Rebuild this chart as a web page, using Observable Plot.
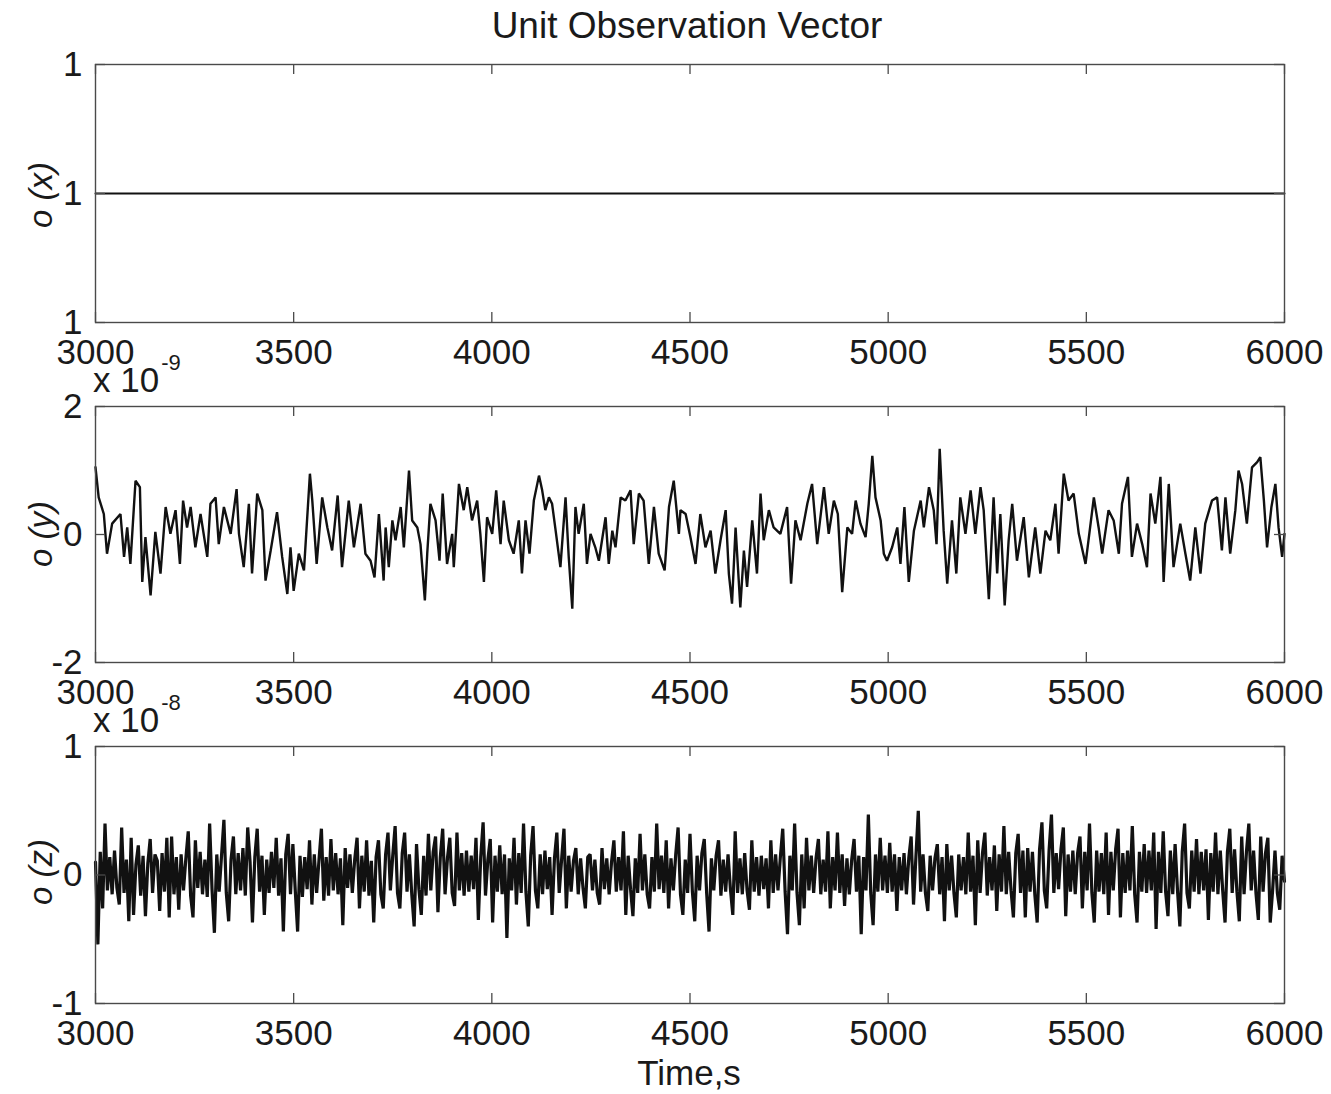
<!DOCTYPE html>
<html><head><meta charset="utf-8">
<script src="https://cdn.jsdelivr.net/npm/d3@7"></script>
<script src="https://cdn.jsdelivr.net/npm/@observablehq/plot@0.6"></script>
<style>
body{margin:0;background:#fff;}
#page{position:relative;width:1331px;height:1094px;font-family:"Liberation Sans",Arial,sans-serif;color:#1a1a1a;overflow:hidden;background:#fff}
.panel{position:absolute;left:0}
.txt{position:absolute;white-space:nowrap;line-height:1}
.ylab{position:absolute;white-space:nowrap;line-height:1;font-size:33px;font-style:italic;transform:translate(-50%,-50%) rotate(-90deg)}
.mult{position:absolute;white-space:nowrap;line-height:1;font-size:35px;left:93px}
.mult span{font-size:22px;position:relative;top:-22px;margin-left:2px}
</style></head><body><div id="page"></div><script>
// ---------- data ----------
const xTicks = [3000, 3500, 4000, 4500, 5000, 5500, 6000];
const xLabel = "Time,s";
const title = "Unit Observation Vector";
const yLabels = ["o (x)", "o (y)", "o (z)"];
const multipliers = [null, "-9", "-8"];

// o(x): constant unit component
const oxPoints = [[3000, 1], [6000, 1]];
const oxTicks = [1 - 1e-9, 1, 1 + 1e-9];

// o(y) in units of 1e-9 : [time s, value]
const oyPoints = [
[3000,1.05],[3008,0.58],[3021,0.32],[3029,-0.30],[3042,0.17],[3063,0.32],[3072,-0.35],[3080,0.11],[3088,-0.46],[3101,0.84],
[3112,0.74],[3118,-0.74],[3126,-0.04],[3139,-0.95],[3151,0.04],[3164,-0.61],[3177,0.43],[3189,0.01],[3202,0.38],[3213,-0.46],
[3221,0.53],[3231,0.11],[3240,0.43],[3252,-0.20],[3265,0.32],[3282,-0.35],[3290,0.48],[3303,0.58],[3311,-0.15],[3324,0.43],
[3341,0.01],[3356,0.71],[3362,0.01],[3374,-0.51],[3387,0.48],[3395,-0.61],[3408,0.64],[3421,0.38],[3429,-0.72],[3442,-0.25],
[3458,0.35],[3471,-0.35],[3484,-0.93],[3492,-0.20],[3500,-0.88],[3513,-0.30],[3526,-0.56],[3541,0.95],[3547,0.53],[3558,-0.46],
[3572,0.58],[3585,0.11],[3597,-0.25],[3611,0.61],[3622,-0.51],[3639,0.53],[3652,-0.20],[3669,0.48],[3681,-0.30],[3694,-0.41],
[3704,-0.67],[3715,0.32],[3727,-0.72],
[3732,0.11],[3740,-0.51],[3749,0.22],[3757,-0.09],[3770,0.43],[3778,-0.20],[3791,1.00],[3799,0.22],[3812,0.11],[3820,-0.15],
[3831,-1.03],[3837,-0.30],[3845,0.48],[3858,0.22],[3868,-0.41],[3876,0.64],[3887,-0.46],[3900,0.01],[3904,-0.51],[3917,0.79],
[3929,0.38],[3938,0.74],[3950,0.22],[3963,0.53],[3971,0.01],[3980,-0.74],[3988,0.27],[4001,0.01],[4011,0.69],[4022,-0.15],
[4030,0.53],[4043,-0.09],[4055,-0.30],[4068,0.22],[4076,-0.61],[4085,0.22],[4095,-0.30],[4106,0.53],[4119,0.92],[4127,0.69],
[4135,0.38],[4144,0.58],[4152,0.48],[4161,0.06],[4173,-0.51],[4186,0.58],[4194,-0.35],[4203,-1.16],[4211,0.43],[4219,0.01],
[4232,0.48],[4240,-0.46],[4249,0.01],[4261,-0.20],[4270,-0.41],[4278,-0.09],[4287,0.27],[4295,-0.46],[4304,0.06],[4312,-0.20],
[4325,0.58],[4337,0.53],[4350,0.69],[4358,-0.15],[4371,0.64],[4383,0.53],[4396,-0.46],[4409,0.43],[4421,-0.30],[4436,-0.56],
[4447,0.43],[4459,0.84],[4472,0.01],
[4476,0.38],[4489,0.32],[4501,-0.04],[4514,-0.46],[4526,0.32],[4539,-0.20],[4552,0.06],[4564,-0.61],[4577,-0.09],[4590,0.38],
[4598,-0.61],[4606,-1.08],[4615,0.11],[4627,-1.14],[4636,-0.25],[4644,-0.82],[4657,0.22],[4669,-0.61],[4678,0.64],[4686,-0.09],
[4699,0.38],[4711,0.11],[4728,0.01],[4745,0.43],[4755,-0.77],[4766,0.22],[4779,-0.09],[4796,0.48],[4808,0.79],[4821,-0.15],
[4838,0.74],[4850,0.01],[4863,0.53],[4873,0.32],[4884,-0.90],[4897,0.11],[4909,0.01],[4918,0.53],[4930,0.17],[4943,-0.04],
[4951,0.48],[4960,1.23],[4968,0.58],[4981,0.22],[4989,-0.30],[4997,-0.41],[5010,-0.20],[5023,0.11],[5031,-0.46],[5041,0.43],
[5052,-0.74],[5065,0.06],[5082,0.53],[5090,0.11],[5103,0.74],[5115,0.38],[5122,-0.15],[5130,1.34],[5140,0.06],[5149,-0.77],
[5161,0.22],[5172,-0.61],[5182,0.58],[5195,0.01],[5208,0.69],
[5220,0.01],[5233,0.74],[5241,0.38],[5254,-1.01],[5266,0.58],[5275,-0.61],[5283,0.32],[5294,-1.11],[5304,-0.09],[5313,0.48],
[5325,-0.41],[5342,0.27],[5355,-0.67],[5371,0.11],[5384,-0.61],[5397,0.06],[5409,-0.09],[5422,0.48],[5430,-0.30],[5443,0.95],
[5455,0.53],[5468,0.64],[5481,0.01],[5498,-0.46],[5519,0.58],[5531,0.11],[5540,-0.30],[5556,0.38],[5569,0.22],[5582,-0.30],
[5590,0.48],[5605,0.90],[5615,-0.35],[5628,0.17],[5641,-0.15],[5653,-0.51],[5662,0.64],[5674,0.17],[5687,0.90],[5695,-0.74],
[5708,0.79],[5720,-0.51],[5737,0.17],[5750,-0.30],[5762,-0.72],[5775,0.11],[5788,-0.61],[5800,0.17],[5817,0.53],[5830,0.58],
[5842,-0.25],[5851,0.58],[5863,-0.30],[5876,0.38],[5884,1.00],[5893,0.79],[5905,0.17],[5918,1.05],[5931,1.13],[5939,1.21],
[5948,0.53],[5956,-0.20],[5967,0.43],[5977,0.79],[5985,0.11],[5994,-0.35],[6000,0.01]
];
const oyTicks = [-2, 0, 2];

// o(z) in units of 1e-8, sampled every zStep seconds from zStart
const zStart = 3000, zStep = 6;
const ozValues = [
0.10,-0.54,0.18,-0.26,0.40,-0.12,0.14,-0.15,0.19,-0.10,
-0.23,0.37,-0.14,0.12,-0.36,0.29,-0.31,0.08,0.23,-0.16,
0.15,-0.32,0.09,0.28,-0.14,0.16,0.11,-0.28,0.17,-0.13,
0.29,-0.33,0.30,-0.15,0.14,-0.27,0.16,-0.12,0.13,0.34,
-0.16,-0.33,0.27,-0.10,0.18,-0.15,0.12,-0.17,0.40,-0.11,
-0.45,0.16,-0.13,0.15,0.43,-0.14,-0.36,0.12,0.30,-0.15,
0.17,-0.12,0.21,-0.16,0.37,0.10,-0.37,0.14,0.36,-0.13,
0.15,-0.31,0.12,-0.14,0.18,-0.10,0.29,-0.16,0.13,-0.44,
0.16,0.32,-0.15,0.24,-0.12,-0.44,0.15,-0.17,0.14,-0.11,
0.27,-0.23,0.16,-0.14,0.12,0.36,-0.20,0.14,-0.16,0.28,
-0.12,0.17,-0.15,0.13,-0.39,0.21,-0.10,0.16,-0.14,0.12,
0.29,-0.26,0.15,-0.13,0.27,-0.16,0.11,-0.37,0.14,0.27,
-0.15,-0.26,0.16,0.33,-0.12,0.15,0.38,-0.14,-0.26,0.17,
0.33,-0.13,0.16,-0.15,-0.40,0.24,-0.11,-0.31,0.15,-0.16,
0.32,-0.12,0.18,0.30,-0.29,0.14,0.36,-0.15,0.13,0.29,
-0.14,-0.24,0.33,-0.12,0.17,-0.16,0.19,-0.13,0.15,-0.11,
0.29,-0.35,0.14,0.41,-0.16,0.12,0.28,-0.37,0.15,-0.13,
0.23,-0.15,0.16,-0.49,0.13,-0.12,0.29,-0.23,0.17,-0.14,
0.40,-0.13,-0.40,0.15,0.38,-0.12,-0.26,0.16,-0.15,0.19,
-0.11,0.14,-0.31,0.13,0.33,-0.14,0.12,0.36,-0.26,0.15,
-0.13,0.11,0.21,-0.15,0.13,-0.10,-0.26,0.14,0.16,-0.12,
0.12,-0.14,-0.23,0.21,-0.11,0.13,-0.15,0.10,0.27,-0.13,
0.14,-0.12,0.34,-0.31,0.15,-0.11,-0.32,0.13,-0.14,0.32,
-0.12,0.16,-0.15,-0.26,0.14,-0.13,0.40,-0.11,0.15,-0.14,
0.27,-0.26,0.13,-0.12,0.16,0.37,-0.15,-0.31,0.12,-0.14,
0.32,-0.13,-0.36,0.15,-0.12,0.17,0.28,-0.14,-0.44,0.13,
-0.12,0.15,0.27,-0.16,0.12,-0.13,0.16,-0.11,-0.31,0.34,
-0.14,0.13,-0.15,0.17,-0.12,-0.27,0.27,-0.13,0.14,-0.16,
0.15,-0.11,0.13,-0.26,0.27,-0.14,0.16,-0.12,0.14,0.36,
-0.13,-0.46,0.15,-0.12,0.40,-0.14,-0.39,0.16,-0.26,0.29,
-0.12,0.15,-0.14,0.13,0.28,-0.15,0.12,-0.13,0.34,-0.26,
0.14,-0.12,0.33,-0.14,0.16,-0.24,0.13,-0.15,0.12,0.28,
-0.13,0.15,-0.46,0.14,-0.12,0.47,-0.14,-0.39,0.16,-0.13,
0.29,-0.12,0.15,-0.14,0.25,-0.13,0.16,-0.28,0.14,-0.12,
0.17,-0.15,0.13,0.30,-0.23,0.14,0.50,-0.13,0.16,-0.14,
-0.28,0.15,-0.12,0.13,0.24,-0.15,0.14,-0.36,0.24,-0.12,
0.15,-0.14,-0.33,0.16,-0.12,0.14,-0.15,0.33,-0.13,0.15,
-0.39,0.27,-0.14,0.17,0.33,-0.16,0.14,-0.12,0.23,-0.28,
0.16,-0.13,0.38,-0.15,0.18,-0.12,-0.33,0.17,0.32,-0.14,
0.19,-0.33,0.21,-0.13,0.18,-0.15,-0.37,0.20,0.41,-0.12,
-0.26,0.19,0.47,-0.14,0.17,-0.11,0.20,0.37,-0.32,0.16,
-0.13,0.19,-0.15,0.17,0.30,-0.26,0.18,-0.12,0.40,-0.14,
-0.37,0.19,-0.13,0.17,-0.15,0.33,-0.31,0.18,-0.12,0.20,
0.36,-0.33,0.17,-0.14,0.19,-0.12,0.38,-0.15,-0.37,0.18,
-0.13,0.24,-0.14,0.19,-0.12,0.33,-0.42,0.18,-0.14,0.34,
-0.13,-0.32,0.19,-0.15,0.24,-0.12,-0.40,0.18,0.40,-0.14,
-0.26,0.19,-0.13,0.28,-0.15,0.18,-0.12,0.20,-0.35,0.17,
-0.13,0.33,-0.15,0.19,-0.12,-0.37,0.18,0.36,-0.14,0.20,
-0.13,-0.36,0.30,-0.15,0.18,0.40,-0.12,0.19,-0.14,-0.35,
0.30,-0.13,0.17,0.29,-0.37,-0.12,0.19,-0.14,-0.27,0.15,
-0.05
];
const ozTicks = [-1, 0, 1];

// ---------- drawing ----------
const FONT = '"Liberation Sans", Arial, sans-serif';
const W = 1331, ML = 95, MR = 47;
const page = document.getElementById("page");

function panel({data, x, y, yDomain, yTicks, yFmt, top, height, mt, mb, sw}) {
  const ih = height - mt - mb, iw = W - ML - MR;
  const tick = 10, tc = "#4a4a4a";
  const chart = Plot.plot({
    width: W, height, marginLeft: ML, marginRight: MR, marginTop: mt, marginBottom: mb,
    style: {fontFamily: FONT, fontSize: "35px", color: "#1a1a1a", background: "transparent", overflow: "visible"},
    x: {domain: [3000, 6000], label: null},
    y: {domain: yDomain, label: null},
    marks: [
      Plot.line(data, {x, y, stroke: "#111", strokeWidth: sw, strokeLinejoin: "miter"}),
      Plot.tickX(xTicks, {x: d => d, insetTop: ih - tick, stroke: tc, strokeWidth: 1.3}),
      Plot.tickX(xTicks, {x: d => d, insetBottom: ih - tick, stroke: tc, strokeWidth: 1.3}),
      Plot.tickY(yTicks, {y: d => d, insetRight: iw - tick, stroke: tc, strokeWidth: 1.3}),
      Plot.tickY(yTicks, {y: d => d, insetLeft: iw - tick, stroke: tc, strokeWidth: 1.3}),
      Plot.axisX(xTicks, {tickSize: 0, tickPadding: 17, tickFormat: d => String(d), label: null, fill: "#1a1a1a"}),
      Plot.axisY(yTicks, {tickSize: 0, tickPadding: 13, tickFormat: yFmt, label: null, fill: "#1a1a1a"}),
      Plot.frame({stroke: tc, strokeWidth: 1.4})
    ]
  });
  const div = document.createElement("div");
  div.className = "panel";
  div.style.top = top + "px";
  div.appendChild(chart);
  page.appendChild(div);
}

const fmt1 = d => d3.format(".3~f")(d);
panel({data: oxPoints, x: d => d[0], y: d => d[1], yDomain: [1 - 1e-9, 1 + 1e-9], yTicks: oxTicks, yFmt: fmt1, top: 0, height: 372, mt: 64, mb: 50, sw: 2});
panel({data: oyPoints, x: d => d[0], y: d => d[1], yDomain: [-2, 2], yTicks: oyTicks, yFmt: d => String(d), top: 372, height: 340, mt: 34, mb: 50, sw: 2.4});
const ozData = ozValues.map((v, i) => ({t: zStart + i * zStep, v}));
panel({data: ozData, x: "t", y: "v", yDomain: [-1, 1], yTicks: ozTicks, yFmt: d => String(d), top: 712, height: 382, mt: 34, mb: 91, sw: 3.2});

// ---------- text ----------
function addText(cls, html, styles) {
  const el = document.createElement("div");
  el.className = cls;
  el.innerHTML = html;
  Object.assign(el.style, styles);
  page.appendChild(el);
  return el;
}
addText("txt", title, {fontSize: "37px", left: "687px", top: "7px", transform: "translateX(-50%)"});
addText("txt", xLabel, {fontSize: "35px", left: "689px", top: "1055px", transform: "translateX(-50%)"});
const ylabY = [195, 534, 872];
yLabels.forEach((s, i) => addText("ylab", s, {left: "40px", top: ylabY[i] + "px"}));
const multTop = [null, 362, 702];
multipliers.forEach((m, i) => { if (m) addText("mult", "x 10<span>" + m + "</span>", {top: multTop[i] + "px"}); });
</script></body></html>
